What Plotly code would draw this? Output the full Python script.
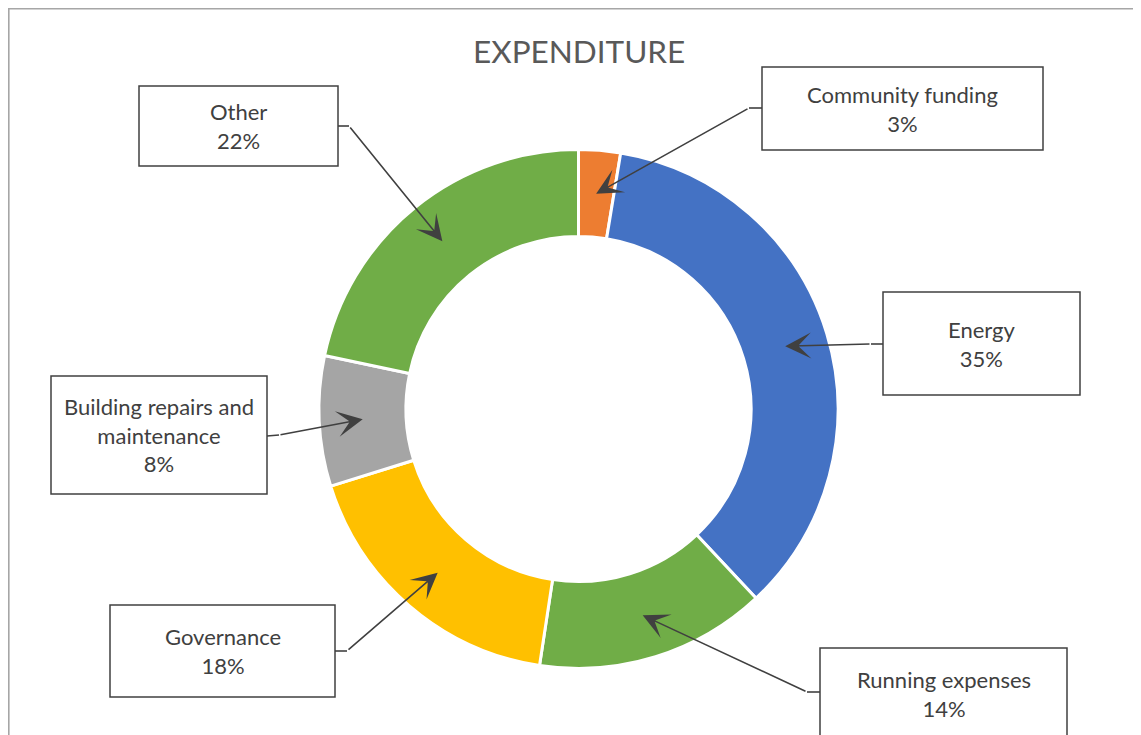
import math
import plotly.graph_objects as go

# ---- data ----
categories = ["Community funding", "Energy", "Running expenses", "Governance",
              "Building repairs and maintenance", "Other"]
values = [2.6, 35.4, 14.4, 17.8, 8.1, 21.7]
label_text = ["Community funding", "Energy", "Running expenses", "Governance",
              "Building repairs and<br>maintenance", "Other"]
colors = ["#ED7D31", "#4472C4", "#70AD47", "#FFC000", "#A5A5A5", "#70AD47"]

# ---- layout constants (page pixel space) ----
W, H = 1141, 735
OFF = 8  # page body margin
CX, CY, R_OUT = 578.5, 409.0, 259.5
HOLE = 0.665
R_MID = R_OUT * (1 + HOLE) / 2

# label boxes: (x0, y0, x1, y1), stub start (box edge) and elbow point
boxes = [
    (762, 67, 1043, 150),
    (883, 292, 1080, 395),
    (820, 648, 1067, 739),
    (110, 605, 335, 697),
    (51, 376, 267, 494),
    (139, 86, 338, 166),
]
stubs = [
    ((762, 108), (749, 108)),
    ((883, 344), (871, 344)),
    ((820, 692), (807, 692)),
    ((335, 651), (347, 651)),
    ((267, 436), (279, 435)),
    ((338, 126), (349, 126)),
]

TXT = "#404040"
LINE = "#404040"
FONT = "Lato"

fig = go.Figure()

fig.add_trace(go.Pie(
    labels=categories, values=values, sort=False, direction="clockwise",
    rotation=0, hole=HOLE, textinfo="none", hoverinfo="label+percent",
    marker=dict(colors=colors, line=dict(color="white", width=3)),
    showlegend=False,
    domain=dict(x=[(CX - R_OUT - OFF) / W, (CX + R_OUT - OFF) / W],
                y=[1 - (CY + R_OUT - OFF) / H, 1 - (CY - R_OUT - OFF) / H]),
))
fig.add_trace(go.Scatter(x=[OFF + 1], y=[OFF + 1], mode="none", showlegend=False,
                         hoverinfo="skip"))

shapes = []
annotations = []

# outer chart border
shapes.append(dict(type="rect", xref="x", yref="y", x0=OFF + 0.8, y0=OFF + 0.8,
                   x1=1200, y1=800,
                   line=dict(color="#A6A6A6", width=1.6), fillcolor="rgba(0,0,0,0)"))

total = sum(values)
cum = 0
for i, v in enumerate(values):
    mid = (cum + v / 2) / total * 2 * math.pi
    cum += v
    tx = CX + R_MID * math.sin(mid)
    ty = CY - R_MID * math.cos(mid)
    pct = round(v / total * 100)
    x0, y0, x1, y1 = boxes[i]
    shapes.append(dict(type="rect", xref="x", yref="y", x0=x0, y0=y0, x1=x1, y1=y1,
                       line=dict(color=LINE, width=1.5), fillcolor="white"))
    annotations.append(dict(xref="x", yref="y", x=(x0 + x1) / 2, y=(y0 + y1) / 2,
                            text=f"{label_text[i]}<br>{pct}%", showarrow=False,
                            font=dict(family=FONT, size=22, color=TXT),
                            align="center", xanchor="center", yanchor="middle"))
    (sx, sy), (ex, ey) = stubs[i]
    shapes.append(dict(type="line", xref="x", yref="y", x0=sx, y0=sy, x1=ex, y1=ey,
                       line=dict(color=LINE, width=1.6)))
    annotations.append(dict(xref="x", yref="y", axref="x", ayref="y",
                            x=tx, y=ty, ax=ex, ay=ey, text="", showarrow=True,
                            arrowhead=3, arrowsize=2.7, arrowwidth=1.6,
                            arrowcolor=LINE))

annotations.append(dict(xref="x", yref="y", x=CX, y=51, text="EXPENDITURE",
                        showarrow=False, xanchor="center", yanchor="middle",
                        font=dict(family=FONT, size=31.5, color="#595959")))

fig.update_layout(
    width=W, height=H, margin=dict(l=0, r=0, t=0, b=0),
    paper_bgcolor="white", plot_bgcolor="rgba(0,0,0,0)",
    xaxis=dict(range=[OFF, W + OFF], visible=False, fixedrange=True, domain=[0, 1]),
    yaxis=dict(range=[H + OFF, OFF], visible=False, fixedrange=True, domain=[0, 1]),
    shapes=shapes, annotations=annotations,
)

fig.write_html("out.html")
